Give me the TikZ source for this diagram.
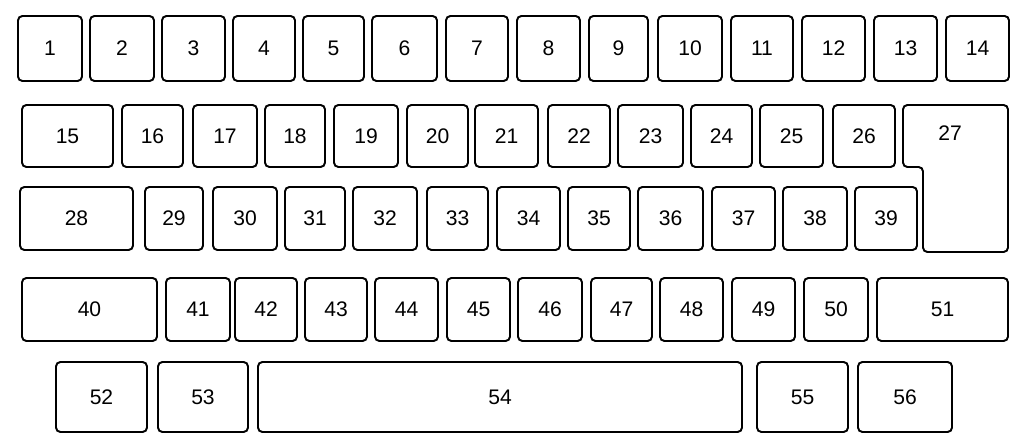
\documentclass[tikz,border=0pt]{standalone}
\usepackage{fontspec}
\setmainfont{Liberation Sans}
\usepackage{tikz}
\usetikzlibrary{positioning}
\tikzset{
  key/.style={draw, line width=1.1pt, rounded corners=2.5pt, inner sep=0pt},
  keylabel/.style={font=\fontsize{12}{14}\selectfont}
}

\begin{document}
\begin{tikzpicture}[x=0.02cm, y=-0.02cm]
\useasboundingbox (0,0) rectangle (1024,445);

% row 1
\foreach \n/\a/\b in {1/18/82, 2/90/154, 3/162/225, 4/233/295, 5/303/364, 6/372/437, 7/446/508,
                      8/517/580, 9/589/648, 10/658/722, 11/731/793, 12/802/865, 13/874/937, 14/946/1009}
  \node (k\n) [key, keylabel, minimum width={(\b-\a)*0.02cm}, minimum height=1.3cm] at ({(\a+\b)/2},48.5) {\n};

% row 2
\foreach \n/\a/\b in {15/22/113, 16/122/183, 17/193/257, 18/265/325, 19/334/398, 20/407/468,
                      21/475/538, 22/548/610, 23/618/683, 24/691/752, 25/760/823, 26/833/895}
  \node (k\n) [key, keylabel, minimum width={(\b-\a)*0.02cm}, minimum height=1.24cm] at ({(\a+\b)/2},136) {\n};

% key 27 (L shape)
\draw [key] (903,105) -- (1008,105) -- (1008,252) -- (923,252) -- (923,167) -- (903,167) -- cycle;
\node (k27) [keylabel] at (950,133) {27};

% row 3
\foreach \n/\a/\b in {28/20/133, 29/145/203, 30/213/277, 31/285/345, 32/353/417, 33/427/488,
                      34/497/560, 35/568/630, 36/638/703, 37/712/775, 38/783/847, 39/855/917}
  \node (k\n) [key, keylabel, minimum width={(\b-\a)*0.02cm}, minimum height=1.26cm] at ({(\a+\b)/2},218.5) {\n};

% row 4
\foreach \n/\a/\b in {40/22/157, 41/166/230, 42/235/297, 43/305/367, 44/375/438, 45/447/510,
                      46/518/582, 47/591/652, 48/660/723, 49/732/795, 50/804/868, 51/877/1008}
  \node (k\n) [key, keylabel, minimum width={(\b-\a)*0.02cm}, minimum height=1.26cm] at ({(\a+\b)/2},309.5) {\n};

% row 5
\foreach \n/\a/\b in {52/56/147, 53/158/248, 54/258/742, 55/757/848, 56/858/952}
  \node (k\n) [key, keylabel, minimum width={(\b-\a)*0.02cm}, minimum height=1.4cm] at ({(\a+\b)/2},397) {\n};
\end{tikzpicture}
\end{document}
